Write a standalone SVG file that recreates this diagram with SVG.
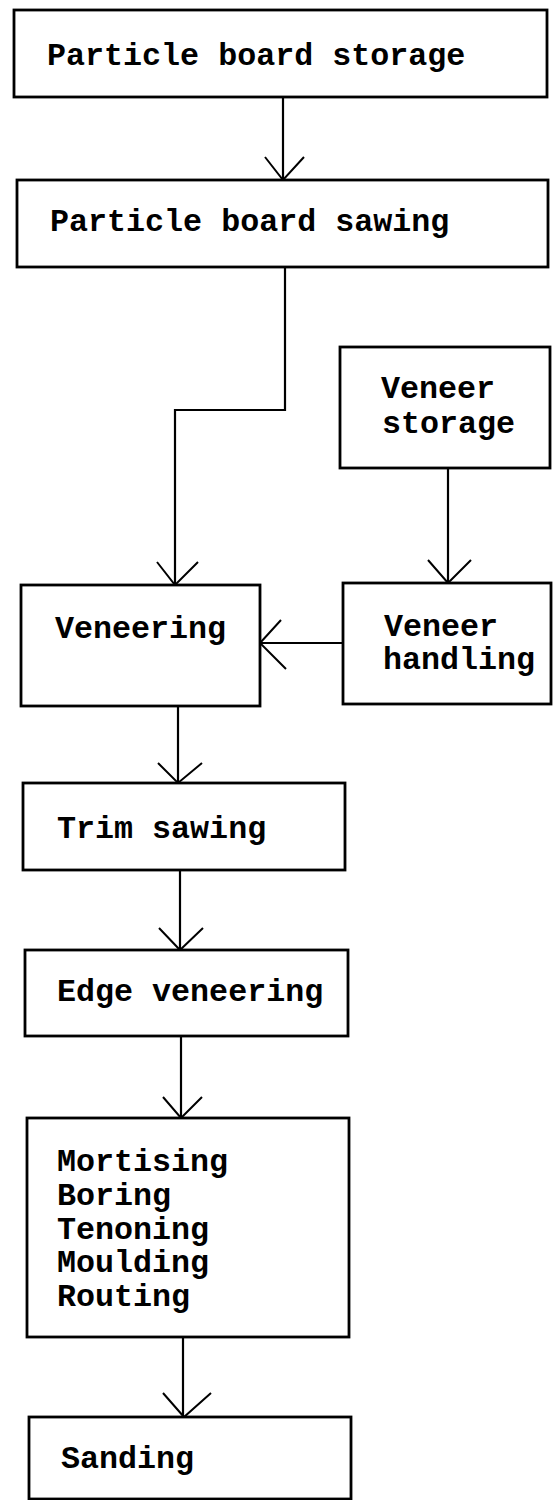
<svg xmlns="http://www.w3.org/2000/svg" width="555" height="1500" viewBox="0 0 555 1500">
<style>
.box{fill:#fff;stroke:#000;stroke-width:2.8}
.t{font-family:"Liberation Mono","Courier New",monospace;font-weight:bold;font-size:31.7px;fill:#000}
.ln{fill:none;stroke:#000;stroke-width:2.2}
.ah{fill:none;stroke:#000;stroke-width:2}
</style>
<rect width="555" height="1500" fill="#fff"/>
<g id="connectors">
<path class="ln" d="M283,97 V180"/><path class="ah" d="M265,157 L283,180 L304,157"/>
<path class="ln" d="M285,267 V410 H175 V585"/><path class="ah" d="M157,562 L175,585 L198,562"/>
<path class="ln" d="M448,468 V583"/><path class="ah" d="M428,560 L448,583 L471,560"/>
<path class="ln" d="M343,643 H260"/><path class="ah" d="M281,620 L260,643 L286,669"/>
<path class="ln" d="M178,706 V783"/><path class="ah" d="M158,763 L178,783 L202,763"/>
<path class="ln" d="M180,870 V950"/><path class="ah" d="M159,928 L180,950 L203,928"/>
<path class="ln" d="M181,1036 V1118"/><path class="ah" d="M163,1097 L181,1118 L202,1097"/>
<path class="ln" d="M183,1337 V1417"/><path class="ah" d="M163,1393 L184,1417 L211,1393"/>
</g>
<g id="n1"><rect class="box" x="14" y="10" width="533" height="87"/><text class="t" x="47" y="65">Particle board storage</text></g>
<g id="n2"><rect class="box" x="17" y="180" width="531" height="87"/><text class="t" x="50" y="231">Particle board sawing</text></g>
<g id="n3"><rect class="box" x="340" y="347" width="210" height="121"/><text class="t" x="381" y="398">Veneer</text><text class="t" x="382" y="433">storage</text></g>
<g id="n4"><rect class="box" x="21" y="585" width="239" height="121"/><text class="t" x="55" y="638">Veneering</text></g>
<g id="n5"><rect class="box" x="343" y="583" width="208" height="121"/><text class="t" x="384" y="636">Veneer</text><text class="t" x="383" y="669">handling</text></g>
<g id="n6"><rect class="box" x="23" y="783" width="322" height="87"/><text class="t" x="57" y="838">Trim sawing</text></g>
<g id="n7"><rect class="box" x="25" y="950" width="323" height="86"/><text class="t" x="57" y="1001">Edge veneering</text></g>
<g id="n8"><rect class="box" x="27" y="1118" width="322" height="219"/>
<text class="t" x="57" y="1171">Mortising</text>
<text class="t" x="57" y="1205">Boring</text>
<text class="t" x="57" y="1239">Tenoning</text>
<text class="t" x="57" y="1272">Moulding</text>
<text class="t" x="57" y="1306">Routing</text></g>
<g id="n9"><rect class="box" x="29" y="1417" width="322" height="82"/><text class="t" x="61" y="1468">Sanding</text></g>
</svg>
